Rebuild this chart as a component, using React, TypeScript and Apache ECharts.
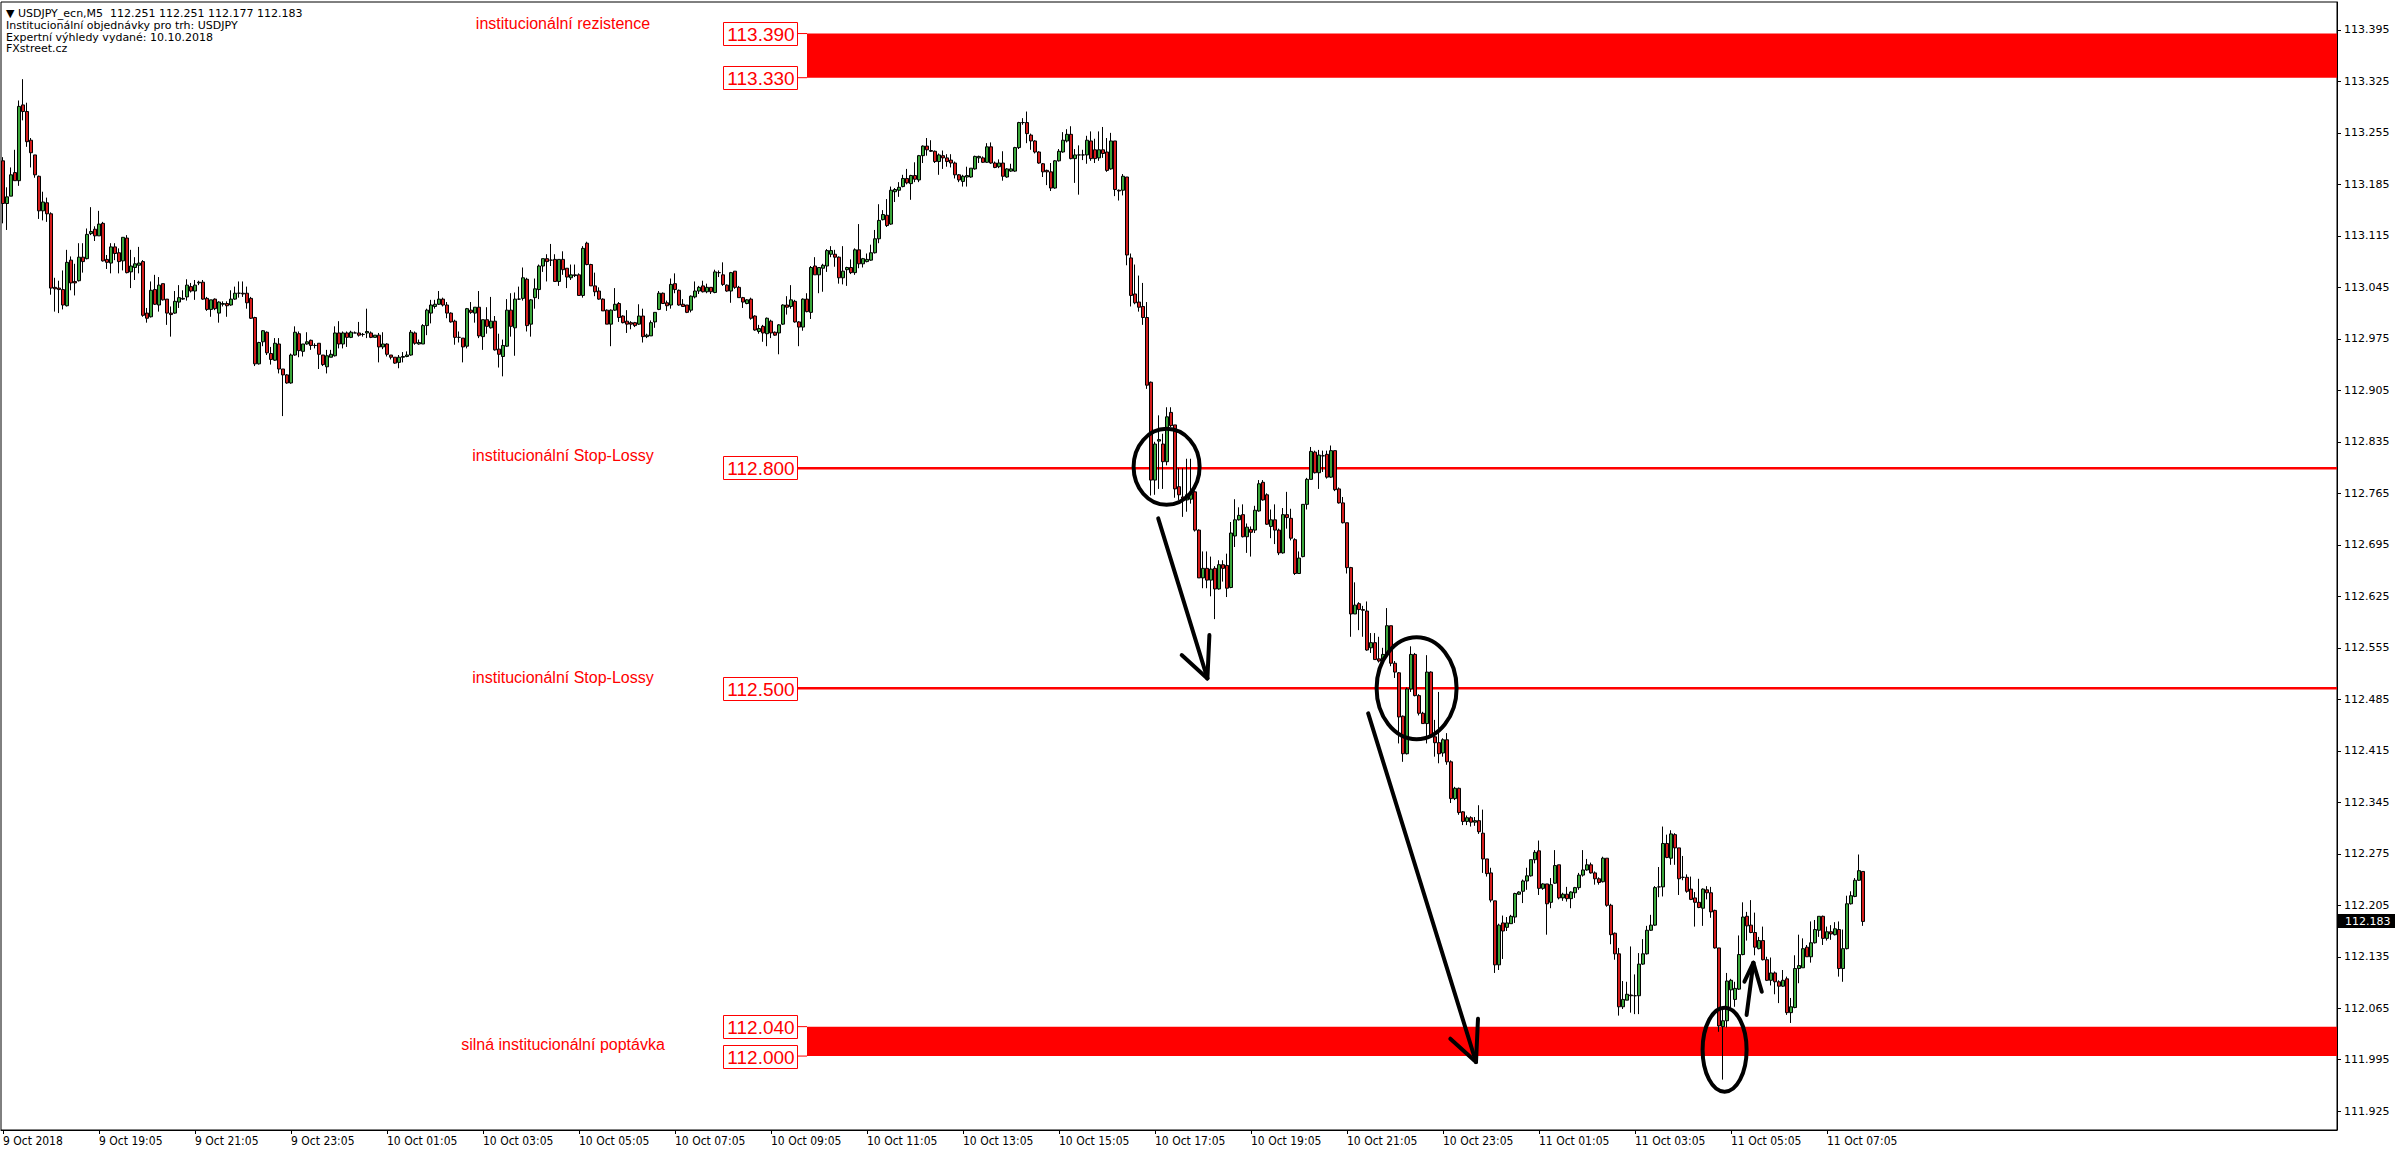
import React, { useEffect, useRef } from 'react';
import * as echarts from 'echarts';

// USDJPY M5 candles, values in 0.001 JPY above 112.000: [open, high, low, close]
const PRICE_BASE_POINTS = 112000;
const ohlcPoints: number[][] = [
  [1217,1222,1132,1159],[1159,1181,1123,1168],[1169,1208,1169,1198],[1201,1232,1190,1190],[1190,1299,1183,1291],[1293,1328,1272,1284],[1284,1296,1236,1243],[1245,1248,1208,1228],[1225,1225,1194,1198],[1196,1197,1138,1149],
  [1149,1175,1136,1161],[1160,1167,1134,1145],[1145,1147,1035,1044],[1045,1058,1012,1043],[1044,1054,1010,1042],[1042,1068,1015,1021],[1020,1096,1019,1079],[1082,1087,1041,1051],[1053,1077,1034,1051],[1054,1105,1053,1086],
  [1086,1105,1065,1080],[1084,1125,1083,1117],[1118,1154,1116,1121],[1124,1128,1108,1115],[1115,1149,1115,1131],[1132,1134,1080,1081],[1083,1089,1070,1079],[1078,1105,1064,1100],[1100,1105,1082,1091],[1092,1098,1064,1080],
  [1081,1113,1068,1113],[1112,1116,1064,1065],[1066,1096,1044,1074],[1072,1086,1055,1077],[1075,1100,1064,1078],[1080,1082,1005,1007],[1010,1017,997,1003],[1005,1053,1004,1041],[1042,1062,1021,1022],[1021,1059,1012,1048],
  [1050,1050,1027,1028],[1029,1029,994,1010],[1010,1019,978,1008],[1010,1040,1009,1026],[1025,1048,1017,1031],[1029,1041,1028,1030],[1032,1056,1027,1048],[1046,1051,1038,1040],[1040,1055,1028,1048],[1051,1054,1048,1052],
  [1052,1055,1028,1029],[1030,1032,1013,1015],[1015,1028,1005,1028],[1029,1030,1014,1016],[1010,1026,997,1025],[1022,1026,1019,1023],[1023,1026,1005,1020],[1021,1041,1020,1029],[1029,1046,1028,1037],[1037,1053,1031,1037],
  [1037,1053,1032,1036],[1037,1046,1016,1024],[1030,1032,1002,1003],[1004,1005,938,941],[941,971,940,970],[971,987,965,986],[984,985,953,956],[955,964,940,947],[946,976,945,969],[968,976,928,934],
  [934,934,870,926],[926,927,914,915],[915,955,914,953],[953,992,952,984],[982,985,950,959],[958,968,951,968],[968,984,967,971],[973,974,960,966],[966,969,962,966],[969,969,934,954],
  [953,953,938,940],[937,960,928,952],[950,960,950,954],[952,992,951,983],[983,999,962,968],[968,985,962,983],[983,985,964,977],[977,986,976,984],[983,985,983,983],[983,998,978,980],
  [981,983,978,981],[983,1016,976,985],[983,985,976,977],[977,980,977,980],[980,983,943,964],[964,984,961,968],[968,969,951,954],[953,953,947,950],[950,950,941,942],[943,953,935,950],
  [950,957,943,951],[951,958,950,953],[953,987,952,984],[983,985,967,969],[968,974,967,970],[968,995,968,993],[993,1016,980,1014],[1010,1028,996,1021],[1019,1028,1016,1022],[1022,1040,1021,1029],
  [1029,1031,1019,1021],[1021,1025,1003,1010],[1010,1011,997,998],[999,1001,967,977],[977,985,970,977],[976,976,943,964],[965,1017,962,1016],[1014,1025,1009,1011],[1010,1018,997,1018],[1018,1040,976,979],
  [978,1001,960,1001],[1001,1018,982,992],[990,1032,989,999],[999,1006,959,960],[961,982,936,954],[951,974,924,966],[965,1029,964,1014],[1014,1037,978,992],[990,1038,952,1029],[1029,1046,1028,1029],
  [1030,1072,1027,1058],[1056,1058,985,993],[995,1029,978,1028],[1031,1057,1016,1043],[1042,1076,1029,1074],[1074,1084,1066,1084],[1084,1090,1053,1080],[1082,1104,1074,1082],[1083,1090,1053,1053],[1053,1083,1047,1083],
  [1083,1094,1062,1069],[1071,1071,1044,1059],[1058,1076,1055,1062],[1062,1076,1059,1061],[1062,1064,1034,1034],[1034,1101,1031,1098],[1105,1107,1075,1076],[1076,1077,1047,1047],[1047,1065,1033,1039],[1040,1045,1028,1029],
  [1029,1030,1013,1013],[1014,1015,995,995],[995,1015,965,1014],[1014,1044,1013,1022],[1023,1025,998,1004],[1006,1007,996,997],[999,1014,983,995],[997,999,988,995],[997,998,991,993],[995,1022,994,1006],
  [1006,1016,970,978],[978,982,976,980],[979,1000,979,997],[998,1011,990,1011],[1015,1040,1014,1037],[1037,1038,1023,1023],[1024,1027,1013,1020],[1021,1057,1016,1049],[1050,1064,1037,1042],[1041,1042,1020,1021],
  [1022,1029,1019,1019],[1021,1021,1010,1011],[1014,1034,1011,1033],[1032,1053,1030,1040],[1040,1047,1036,1045],[1047,1054,1038,1039],[1039,1050,1037,1045],[1045,1045,1036,1039],[1038,1069,1037,1066],[1065,1068,1059,1065],
  [1062,1079,1047,1049],[1048,1049,1039,1040],[1040,1066,1024,1065],[1067,1067,1043,1045],[1045,1047,1031,1031],[1031,1032,1017,1025],[1023,1029,1022,1028],[1029,1031,1001,1003],[1006,1007,986,987],[985,994,982,989],
  [992,994,971,983],[982,1004,965,1003],[999,1001,976,983],[984,985,979,980],[983,995,954,994],[995,1022,994,1021],[1021,1033,1008,1018],[1019,1048,1016,1028],[1026,1028,997,998],[998,999,965,991],
  [991,1030,986,1029],[1029,1037,1011,1012],[1011,1074,1002,1072],[1074,1086,1062,1062],[1062,1072,1037,1072],[1071,1077,1039,1075],[1074,1097,1066,1095],[1090,1101,1086,1095],[1090,1096,1073,1086],[1086,1087,1050,1058],
  [1058,1101,1049,1067],[1069,1073,1047,1072],[1072,1083,1063,1065],[1065,1098,1062,1096],[1096,1131,1071,1077],[1077,1085,1072,1084],[1080,1091,1079,1083],[1082,1103,1081,1092],[1092,1123,1091,1111],[1111,1158,1105,1136],
  [1137,1150,1136,1144],[1143,1165,1127,1129],[1131,1182,1130,1177],[1175,1180,1161,1178],[1177,1188,1168,1181],[1182,1198,1181,1193],[1193,1206,1185,1187],[1186,1198,1164,1197],[1197,1215,1188,1192],[1191,1225,1188,1224],
  [1224,1238,1214,1237],[1237,1248,1224,1232],[1231,1245,1229,1230],[1230,1231,1214,1216],[1216,1227,1198,1225],[1224,1231,1206,1221],[1221,1226,1209,1216],[1218,1226,1208,1214],[1214,1216,1193,1198],[1198,1199,1188,1191],
  [1189,1198,1182,1196],[1195,1209,1182,1197],[1195,1207,1194,1207],[1206,1224,1205,1223],[1221,1224,1214,1223],[1221,1223,1214,1215],[1215,1241,1214,1236],[1236,1242,1213,1214],[1214,1216,1207,1208],[1209,1219,1207,1214],
  [1214,1230,1190,1196],[1195,1207,1194,1206],[1203,1213,1202,1206],[1203,1236,1202,1235],[1235,1270,1233,1269],[1269,1275,1266,1269],[1269,1284,1241,1254],[1252,1254,1232,1244],[1244,1245,1227,1229],[1229,1230,1213,1214],
  [1213,1214,1195,1202],[1204,1205,1184,1202],[1202,1214,1176,1180],[1180,1218,1179,1217],[1217,1233,1216,1230],[1229,1256,1228,1245],[1244,1260,1242,1253],[1253,1264,1219,1220],[1220,1233,1187,1225],[1225,1238,1171,1225],
  [1225,1232,1218,1225],[1225,1251,1213,1245],[1244,1257,1217,1220],[1232,1247,1214,1220],[1221,1257,1217,1232],[1232,1263,1221,1227],[1229,1248,1202,1204],[1206,1255,1205,1244],[1244,1244,1169,1178],[1177,1178,1163,1176],
  [1177,1199,1170,1196],[1195,1195,1075,1089],[1085,1091,1019,1034],[1036,1076,1022,1024],[1025,1061,1012,1018],[1019,1051,994,1004],[1004,1025,907,912],[916,917,762,783],[783,835,763,832],[836,871,771,838],
  [832,846,771,808],[808,882,803,869],[875,882,855,857],[858,858,759,771],[774,799,756,763],[760,799,733,758],[756,812,740,763],[757,812,751,765],[767,769,713,715],[715,716,650,650],
  [650,686,636,663],[663,686,636,647],[647,679,625,662],[663,666,594,635],[635,674,634,668],[668,674,645,663],[667,683,624,636],[637,726,636,711],[707,757,692,729],[729,746,728,735],
  [736,750,705,706],[706,724,684,719],[716,720,679,712],[715,748,711,742],[741,783,740,778],[780,783,755,756],[763,765,722,723],[720,743,704,729],[729,750,696,715],[715,717,681,684],
  [684,745,683,736],[736,767,717,732],[731,744,701,704],[702,704,654,656],[656,686,656,677],[679,750,678,750],[750,786,743,784],[784,828,784,822],[821,823,792,793],[793,824,771,817],
  [816,823,794,816],[818,823,785,787],[787,830,786,823],[823,823,768,770],[771,773,751,752],[752,760,724,725],[725,725,656,664],[664,665,570,601],[601,644,601,613],[615,617,579,607],
  [607,612,570,606],[605,618,551,552],[555,575,548,562],[562,575,539,539],[540,570,535,537],[539,555,534,546],[546,609,544,585],[585,585,530,534],[534,537,514,522],[521,522,425,461],
  [462,463,400,411],[411,501,410,499],[499,557,495,546],[546,548,489,490],[490,492,463,466],[466,468,452,452],[452,545,425,522],[522,523,433,434],[434,457,407,426],[426,495,398,411],
  [412,432,407,430],[430,439,396,400],[400,402,344,350],[350,366,348,364],[364,365,328,331],[332,333,314,319],[319,327,314,324],[324,326,312,318],[318,325,313,320],[320,341,302,305],
  [303,335,249,268],[268,268,244,248],[249,256,209,212],[211,211,113,124],[124,180,117,178],[181,191,132,170],[175,189,170,181],[180,192,180,190],[189,222,181,221],[220,224,219,223],
  [224,240,208,238],[238,256,226,245],[245,267,244,267],[267,280,262,277],[279,293,219,228],[228,235,226,234],[234,234,165,207],[209,242,201,233],[235,280,234,259],[260,260,213,215],
  [215,222,211,220],[220,230,210,214],[214,224,201,223],[222,230,215,229],[229,249,226,246],[246,280,244,253],[253,268,252,260],[260,263,248,249],[249,251,233,241],[241,243,233,236],
  [237,271,236,269],[269,269,203,205],[205,207,152,165],[167,168,131,139],[139,147,55,67],[67,102,64,77],[76,101,76,84],[83,149,59,82],[82,111,57,82],[82,140,57,125],
  [125,159,124,139],[139,177,138,171],[171,192,170,178],[178,231,177,229],[230,257,216,230],[230,312,217,289],[289,301,269,270],[269,307,260,302],[301,303,260,283],[283,283,219,241],
  [243,272,239,243],[243,247,222,224],[227,244,212,213],[215,223,176,209],[209,241,201,202],[201,228,177,227],[226,231,213,222],[222,230,188,196],[198,199,146,147],[147,147,33,41],
  [40,67,-32,48],[48,113,39,102],[90,105,64,103],[77,101,67,92],[91,164,90,138],[138,209,137,189],[190,196,157,177],[178,212,167,168],[168,195,137,148],[146,162,145,157],
  [157,176,130,131],[131,135,102,103],[103,134,96,113],[113,115,84,101],[101,103,72,95],[95,117,94,103],[105,108,56,59],[59,79,45,67],[66,137,65,119],[119,165,99,123],
  [120,160,120,146],[148,151,135,135],[135,183,127,154],[154,185,153,172],[171,190,162,190],[190,191,151,160],[160,176,157,169],[169,178,158,166],[165,182,164,173],[172,183,108,119],
  [119,172,101,146],[146,218,145,207],[207,224,206,218],[217,242,216,239],[239,274,238,252],[251,251,177,183],
];

// x axis: one slot per 5-minute bar; a label every 24 bars (2 hours)
const SLOT_COUNT = 584;
const X_TICK_STEP = 24;
const xTickLabels = [
  '9 Oct 2018', '9 Oct 19:05', '9 Oct 21:05', '9 Oct 23:05', '10 Oct 01:05', '10 Oct 03:05', '10 Oct 05:05',
  '10 Oct 07:05', '10 Oct 09:05', '10 Oct 11:05', '10 Oct 13:05', '10 Oct 15:05', '10 Oct 17:05', '10 Oct 19:05',
  '10 Oct 21:05', '10 Oct 23:05', '11 Oct 01:05', '11 Oct 03:05', '11 Oct 05:05', '11 Oct 07:05',
];

// y axis
const Y_MIN = 111.8995;
const Y_MAX = 113.4329;
const priceTicks = [
  113.395, 113.325, 113.255, 113.185, 113.115, 113.045, 112.975, 112.905, 112.835, 112.765, 112.695,
  112.625, 112.555, 112.485, 112.415, 112.345, 112.275, 112.205, 112.135, 112.065, 111.995, 111.925,
];

// annotation levels
const levelPrices = [113.39, 113.33, 112.8, 112.5, 112.04, 112.0];
const levelTexts = ['113.390', '113.330', '112.800', '112.500', '112.040', '112.000'];
const bandRanges = [[113.33, 113.39], [112.0, 112.04]];
const linePrices = [112.8, 112.5];
const noteTexts = ['institucionální rezistence', 'institucionální Stop-Lossy', 'institucionální Stop-Lossy', 'silná institucionální poptávka'];
const notePrices = [113.404, 112.817, 112.514, 112.0164];
const lastPrice = 112.183;
const lastPriceText = '112.183';

// hand-drawn marks (bar index, price)
const ellipseCenters = [[290.9, 112.801], [353.4, 112.5], [430.4, 112.0086]];
const ellipseRadii = [[33, 38], [40, 51], [22, 42]];
const arrowStarts = [[288.8, 112.7309], [341.3, 112.4658], [435.9, 112.0558]];
const arrowTips = [[301.1, 112.5134], [368.25, 111.9919], [437.6, 112.1269]];
const arrowWings = [
  [[-25.7, -23.3], [2, -43.3]],
  [[-25.7, -23.3], [2, -43.3]],
  [[-9, 19], [8.4, 29]],
];

const headerLines = [
  '\u25BC USDJPY_ecn,M5  112.251 112.251 112.177 112.183',
  'Institucionální objednávky pro trh: USDJPY',
  'Expertní výhledy vydané: 10.10.2018',
  'FXstreet.cz',
];
const headerY = [13, 25.5, 37, 48.5];

// layout
const BOX_LEFT = 723;
const BOX_WIDTH = 74;
const BOX_HEIGHT = 23;
const BAND_LEFT = 807;
const NOTE_CENTER_X = 563;

const BULL = '#3aa63a';
const BEAR = '#d41c1c';
const RED = '#ff0000';
const ARIAL = '"Liberation Sans", Arial, sans-serif';
const TAHOMA = '"DejaVu Sans", Verdana, sans-serif';

const toPrice = (p: number) => (PRICE_BASE_POINTS + p) / 1000;

const toPx = (api: any, idx: number, price: number) => {
  const i0 = Math.floor(idx);
  const p = api.coord([i0, price]);
  const bw = api.size([1, 0])[0];
  return [p[0] + (idx - i0) * bw, p[1]];
};

const isTickIndex = (i: number) => i % X_TICK_STEP === 0 && i / X_TICK_STEP < xTickLabels.length;

function buildOption(): any {
  const categories = Array.from({ length: SLOT_COUNT }, (_, i) => 's' + i);
  const candleData = ohlcPoints.map(([o, h, l, c]) => [toPrice(o), toPrice(c), toPrice(l), toPrice(h)]);

  return {
    animation: false,
    backgroundColor: '#ffffff',
    grid: {
      left: 1, top: 2, width: 2336, height: 1128,
      show: true, borderColor: '#000', borderWidth: 1, backgroundColor: '#fff',
      outerBoundsMode: 'none',
    },
    xAxis: {
      type: 'category',
      data: categories,
      boundaryGap: true,
      axisLine: { show: true, lineStyle: { color: '#000', width: 1 } },
      axisTick: { show: true, alignWithLabel: true, interval: (i: number) => isTickIndex(i), length: 4, lineStyle: { color: '#000' } },
      axisLabel: {
        interval: (i: number) => isTickIndex(i),
        formatter: (_v: string, i: number) => (isTickIndex(i) ? xTickLabels[i / X_TICK_STEP] : ''),
        align: 'left',
        color: '#000',
        fontSize: 12,
        fontFamily: '"DejaVu Sans Condensed", "DejaVu Sans", sans-serif',
        margin: 5,
      },
      splitLine: { show: false },
    },
    yAxis: {
      type: 'value',
      position: 'right',
      min: Y_MIN,
      max: Y_MAX,
      scale: true,
      axisLine: { show: true, lineStyle: { color: '#000' } },
      axisTick: { show: true, length: 4, customValues: priceTicks, lineStyle: { color: '#000' } },
      axisLabel: {
        customValues: priceTicks,
        formatter: (v: number) => v.toFixed(3),
        color: '#000',
        fontSize: 11,
        fontFamily: TAHOMA,
        margin: 7,
      },
      splitLine: { show: false },
    },
    graphic: headerLines.map((t, i) => ({
      type: 'text',
      x: 6,
      y: headerY[i],
      z: 20,
      style: { text: t, fill: '#000', font: '11px ' + TAHOMA, verticalAlign: 'middle' },
    })),
    series: [
      {
        type: 'custom',
        name: 'bands',
        z: 1,
        silent: true,
        data: bandRanges.map((r) => [0, r[1]]),
        renderItem: (params: any, api: any) => {
          const cs = params.coordSys;
          const r = bandRanges[params.dataIndex];
          const yTop = api.coord([0, r[1]])[1];
          const yBot = api.coord([0, r[0]])[1];
          const right = cs.x + cs.width;
          return {
            type: 'rect',
            shape: { x: BAND_LEFT, y: yTop, width: right - BAND_LEFT, height: yBot - yTop },
            style: { fill: RED },
          };
        },
      },
      {
        type: 'custom',
        name: 'lines',
        z: 1,
        silent: true,
        data: linePrices.map((p) => [0, p]),
        renderItem: (params: any, api: any) => {
          const cs = params.coordSys;
          const y = Math.round(api.coord([0, linePrices[params.dataIndex]])[1]);
          return {
            type: 'rect',
            shape: { x: BOX_LEFT + BOX_WIDTH, y: y - 1, width: cs.x + cs.width - BOX_LEFT - BOX_WIDTH, height: 2.4 },
            style: { fill: RED },
          };
        },
      },
      {
        type: 'candlestick',
        name: 'USDJPY',
        z: 2,
        barWidth: 3,
        data: candleData,
        itemStyle: { color: BULL, color0: BEAR, borderColor: '#000', borderColor0: '#000', borderWidth: 1 },
      },
      {
        type: 'custom',
        name: 'levels',
        z: 3,
        silent: true,
        data: levelPrices.map((p) => [0, p]),
        renderItem: (params: any, api: any) => {
          const i = params.dataIndex;
          const y = api.coord([0, levelPrices[i]])[1];
          return {
            type: 'group',
            children: [
              {
                type: 'line',
                shape: { x1: BOX_LEFT + BOX_WIDTH, y1: y, x2: BAND_LEFT, y2: y },
                style: { stroke: RED, lineWidth: 1 },
              },
              {
                type: 'rect',
                shape: { x: BOX_LEFT + 0.5, y: Math.round(y - BOX_HEIGHT / 2) + 0.5, width: BOX_WIDTH, height: BOX_HEIGHT },
                style: { fill: '#fff', stroke: RED, lineWidth: 1 },
              },
              {
                type: 'text',
                x: BOX_LEFT + BOX_WIDTH / 2 + 1,
                y: y + 1,
                style: { text: levelTexts[i], fill: RED, font: '19px ' + ARIAL, align: 'center', verticalAlign: 'middle' },
              },
            ],
          };
        },
      },
      {
        type: 'custom',
        name: 'notes',
        z: 3,
        silent: true,
        data: notePrices.map((p) => [0, p]),
        renderItem: (params: any, api: any) => {
          const i = params.dataIndex;
          const y = api.coord([0, notePrices[i]])[1];
          return {
            type: 'text',
            x: NOTE_CENTER_X,
            y,
            style: { text: noteTexts[i], fill: RED, font: '16px ' + ARIAL, align: 'center', verticalAlign: 'middle' },
          };
        },
      },
      {
        type: 'custom',
        name: 'ellipses',
        z: 4,
        silent: true,
        data: ellipseCenters.map((c) => [Math.round(c[0]), c[1]]),
        renderItem: (params: any, api: any) => {
          const i = params.dataIndex;
          const [cx, cy] = toPx(api, ellipseCenters[i][0], ellipseCenters[i][1]);
          return {
            type: 'ellipse',
            shape: { cx, cy, rx: ellipseRadii[i][0], ry: ellipseRadii[i][1] },
            style: { fill: 'none', stroke: '#000', lineWidth: 4 },
          };
        },
      },
      {
        type: 'custom',
        name: 'arrows',
        z: 4,
        silent: true,
        data: arrowTips.map((t) => [Math.round(t[0]), t[1]]),
        renderItem: (params: any, api: any) => {
          const i = params.dataIndex;
          const s = toPx(api, arrowStarts[i][0], arrowStarts[i][1]);
          const t = toPx(api, arrowTips[i][0], arrowTips[i][1]);
          const [w1, w2] = arrowWings[i];
          const st = { stroke: '#000', lineWidth: 4, lineCap: 'round' };
          return {
            type: 'group',
            children: [
              { type: 'line', shape: { x1: s[0], y1: s[1], x2: t[0], y2: t[1] }, style: st },
              { type: 'line', shape: { x1: t[0] + w1[0], y1: t[1] + w1[1], x2: t[0], y2: t[1] }, style: st },
              { type: 'line', shape: { x1: t[0] + w2[0], y1: t[1] + w2[1], x2: t[0], y2: t[1] }, style: st },
            ],
          };
        },
      },
      {
        type: 'custom',
        name: 'lastPrice',
        z: 5,
        silent: true,
        data: [[0, lastPrice]],
        renderItem: (params: any, api: any) => {
          const cs = params.coordSys;
          const y = api.coord([0, lastPrice])[1];
          const x0 = cs.x + cs.width + 1;
          return {
            type: 'group',
            children: [
              { type: 'rect', shape: { x: x0, y: Math.round(y - 7), width: 57, height: 14 }, style: { fill: '#000' } },
              {
                type: 'text',
                x: x0 + 7,
                y: y + 0.5,
                style: { text: lastPriceText, fill: '#fff', font: '11px ' + TAHOMA, verticalAlign: 'middle' },
              },
            ],
          };
        },
      },
    ],
  };
}

export default function App() {
  const ref = useRef<HTMLDivElement>(null);
  useEffect(() => {
    if (!ref.current) return;
    const chart = echarts.init(ref.current, null, { renderer: 'svg' });
    chart.setOption(buildOption());
    return () => {
      chart.dispose();
    };
  }, []);
  return (
    <div
      ref={ref}
      style={{ position: 'fixed', left: 0, top: 0, width: '2396px', height: '1154px', background: '#fff' }}
    />
  );
}
